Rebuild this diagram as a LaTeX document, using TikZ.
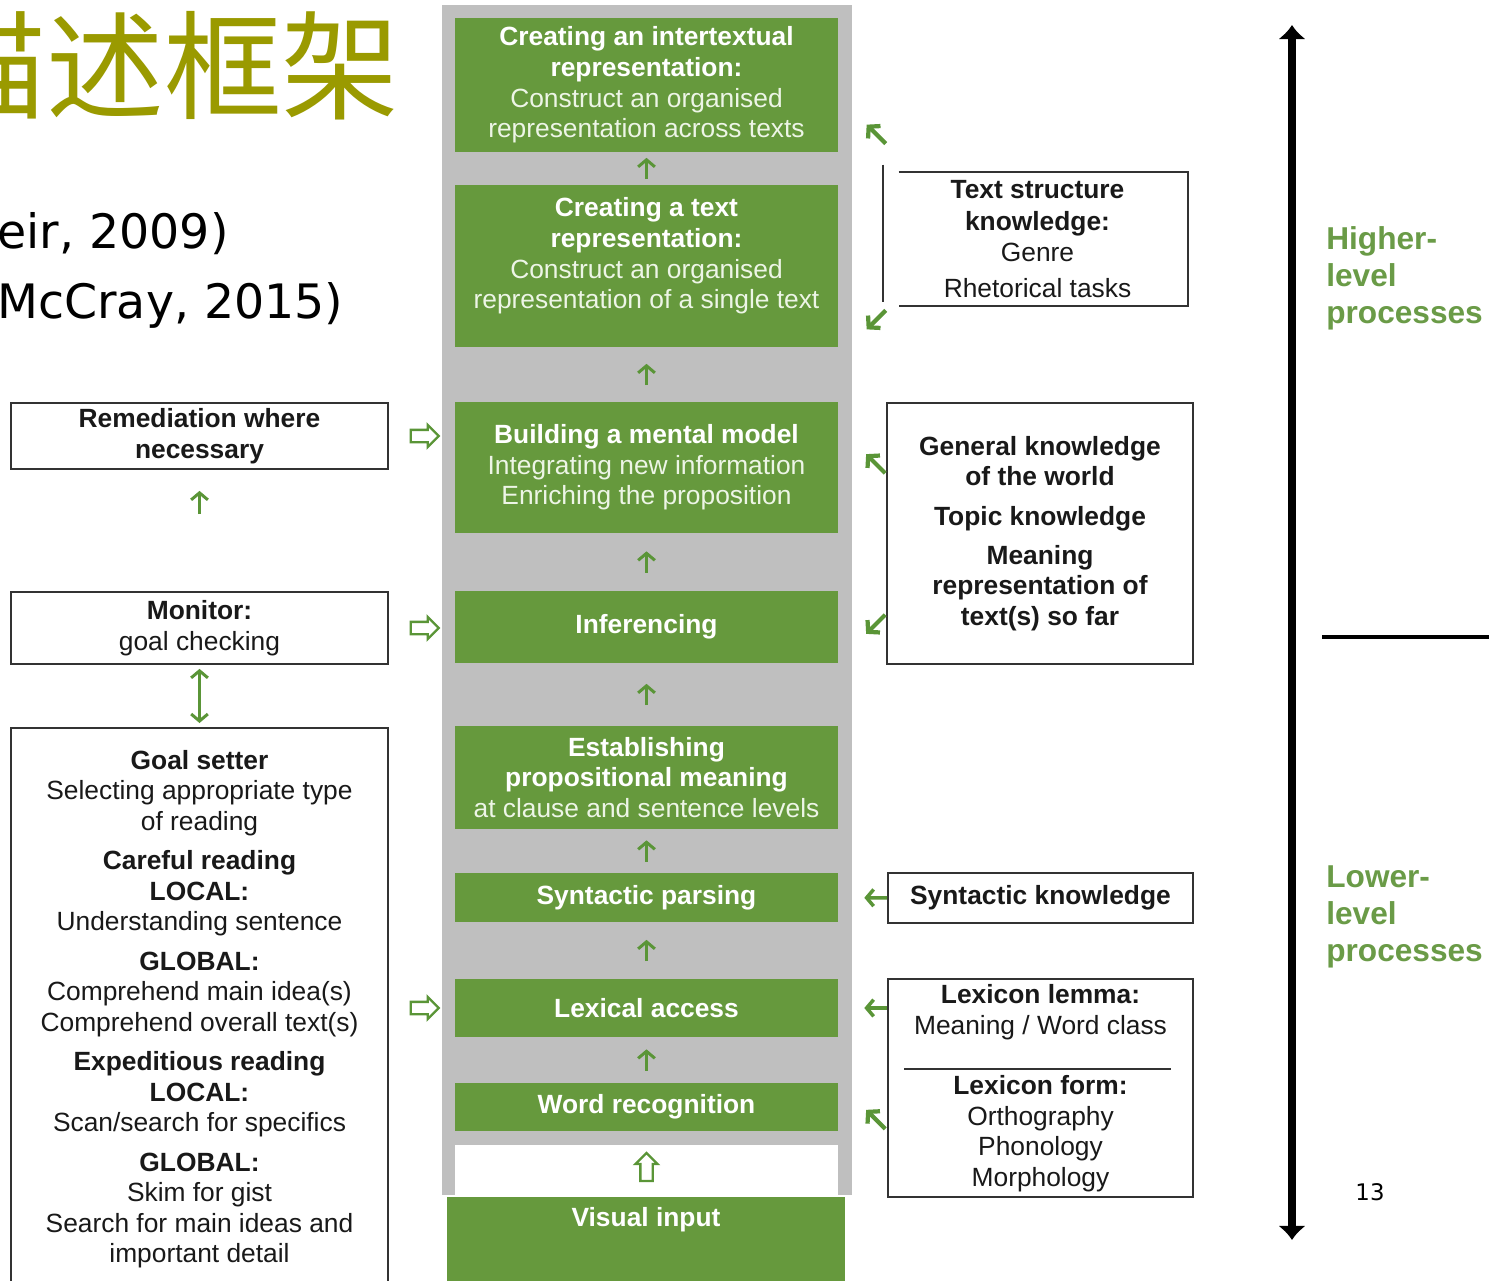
\documentclass[tikz,border=0pt]{standalone}
\usepackage{fontspec}
\setmainfont{Liberation Sans}
\newfontfamily\cjkfont{Noto Sans CJK SC}
\newfontfamily\slidefont{DejaVu Sans}
\usetikzlibrary{positioning,calc,arrows.meta,shapes.arrows}
\definecolor{procgreen}{HTML}{66993D}
\definecolor{arrgreen}{HTML}{5A9537}
\definecolor{bandgray}{HTML}{BFBFBF}
\definecolor{titleolive}{HTML}{9A9A00}
\definecolor{softwhite}{HTML}{EDF5E6}
\definecolor{levelgreen}{HTML}{6A9B47}
\newcommand{\procfont}{\fontsize{15}{17.4}\selectfont}
\newcommand{\hd}[1]{{\bfseries\color{white}#1}}

\begin{document}
\begin{tikzpicture}[x=0.02cm, y=-0.02cm,
  proc/.style={fill=procgreen, minimum width=7.66cm, inner sep=0pt,
               align=center, text=softwhite, font=\procfont},
  know/.style={draw=black!80, line width=1pt, fill=white, inner sep=0pt,
               align=center, text=black!90, font=\procfont},
  garr/.style={arrgreen, line width=1.7pt, -{Straight Barb[length=4pt, width=9.5pt]}},
  uparr/.style={garr, shorten <=#1, shorten >=#1},
  diag/.style={arrgreen, line width=2.4pt, -{Straight Barb[length=4.5pt, width=10pt]}},
  hollow/.style={single arrow, draw=arrgreen, line width=1.3pt, fill=white,
                 minimum height=0.56cm, minimum width=0.4cm,
                 inner xsep=0pt, inner ysep=0.1cm, single arrow head extend=0.1cm},
  level/.style={font=\bfseries\fontsize{18}{21}\selectfont, text=levelgreen,
                align=left, anchor=west, inner sep=0pt},
]

% slide area
\clip (0,0) rectangle (1489,1281);
\fill[white] (0,0) rectangle (1489,1281);

% Title and references (cut off at the left edge)
\node[font=\cjkfont\fontsize{67}{67}\selectfont, text=titleolive,
      anchor=base east, inner sep=0pt] (title) at (400,110) {描述框架};
\node[font=\slidefont\fontsize{27}{30}\selectfont, anchor=base west,
      inner sep=0pt] (ref1) at (-3,248) {eir, 2009)};
\node[font=\slidefont\fontsize{27}{30}\selectfont, anchor=base west,
      inner sep=0pt] (ref2) at (-3,318) {McCray, 2015)};

% Central column: grey band with the processes
\fill[bandgray] (442,5) rectangle (852,1195);

\node[proc, minimum height=2.68cm] (inter) at (646.5,85)
  {\hd{Creating an intertextual}\\\hd{representation:}\\
   Construct an organised\\representation across texts};
\node[proc, minimum height=3.24cm,
      label={[align=center, font=\procfont, text=softwhite, yshift=0.2cm]center:{\hd{Creating a text}\\\hd{representation:}\\Construct an organised\\representation of a single text}}]
  (txt) at (646.5,266) {};
\node[proc, minimum height=2.62cm] (mental) at (646.5,467.5)
  {\hd{Building a mental model}\\Integrating new information\\Enriching the proposition};
\node[proc, minimum height=1.44cm] (infer) at (646.5,627) {\hd{Inferencing}};
\node[proc, minimum height=2.06cm] (estab) at (646.5,777.5)
  {\hd{Establishing}\\\hd{propositional meaning}\\at clause and sentence levels};
\node[proc, minimum height=0.98cm] (synt) at (646.5,897.5) {\hd{Syntactic parsing}};
\node[proc, minimum height=1.16cm] (lex) at (646.5,1008) {\hd{Lexical access}};
\node[proc, minimum height=0.96cm] (word) at (646.5,1107) {\hd{Word recognition}};
\node[fill=white, minimum width=7.66cm, minimum height=1cm, inner sep=0pt] (gap) at (646.5,1170) {};
\node[proc, minimum width=7.96cm, anchor=north, inner ysep=0.2cm, text depth=3cm]
  (visual) at (646,1197) {\hd{Visual input}};

% upward arrows between the processes
\draw[uparr=0.11cm] (txt) -- (inter);
\draw[uparr=0.33cm] (mental) -- (txt);
\draw[uparr=0.36cm] (infer) -- (mental);
\draw[uparr=0.41cm] (estab) -- (infer);
\draw[uparr=0.22cm] (synt) -- (estab);
\draw[uparr=0.35cm] (lex) -- (synt);
\draw[uparr=0.24cm] (word) -- (lex);
\node[hollow, rotate=90] (upin) at (gap) {};

% Left column: metacognitive control
\node[know, minimum width=7.54cm, minimum height=1.32cm] (remed) at (199.5,436)
  {\textbf{Remediation where}\\\textbf{necessary}};
\node[know, minimum width=7.54cm, minimum height=1.44cm] (monitor) at (199.5,628)
  {\textbf{Monitor:}\\goal checking};
\node[know, minimum width=7.54cm, minimum height=11.26cm, anchor=north] (goal) at (199.5,727)
  {\textbf{Goal setter}\\Selecting appropriate type\\of reading\\[5pt]
   \textbf{Careful reading}\\\textbf{LOCAL:}\\Understanding sentence\\[5pt]
   \textbf{GLOBAL:}\\Comprehend main idea(s)\\Comprehend overall text(s)\\[5pt]
   \textbf{Expeditious reading}\\\textbf{LOCAL:}\\Scan/search for specifics\\[5pt]
   \textbf{GLOBAL:}\\Skim for gist\\Search for main ideas and\\important detail};

\draw[garr, shorten <=1.54cm, shorten >=0.42cm] (monitor) -- (remed);
\draw[garr, {Straight Barb[length=4pt, width=9.5pt]}-{Straight Barb[length=4pt, width=9.5pt]},
      shorten <=0.08cm, shorten >=0.08cm] (goal) -- (monitor);

\node[hollow] (toment) at ($(remed.east)!0.5!(remed.east -| mental.west)$) {};
\node[hollow] (toinf) at ($(monitor.east)!0.5!(monitor.east -| infer.west)$) {};
\node[hollow] (tolex) at ($(goal.east |- lex)!0.5!(lex.west)$) {};

% Right column: knowledge sources
\node[inner sep=0pt, minimum width=5.78cm, minimum height=2.68cm,
      label={[align=center, font=\procfont, text=black!90, xshift=-0.12cm]center:{\textbf{Text structure}\\[1pt]\textbf{knowledge:}\\Genre\\[3pt]Rhetorical tasks}}]
  (tsk) at (1043.5,239) {};
\draw[black!80, line width=1pt] (tsk.north west) -- (tsk.north east)
  -- (tsk.south east) -- (tsk.south west);
\draw[black!80, line width=1pt] ($(tsk.north west)+(-16,-7)$) -- ($(tsk.south west)+(-16,-4)$);

\node[know, minimum width=6.12cm, minimum height=5.22cm] (gen) at (1040,533.5)
  {\textbf{General knowledge}\\\textbf{of the world}\\[5pt]
   \textbf{Topic knowledge}\\[5pt]
   \textbf{Meaning}\\\textbf{representation of}\\\textbf{text(s) so far}};
\node[know, minimum width=6.1cm, minimum height=1cm] (syk) at (1040.5,898)
  {\textbf{Syntactic knowledge}};
\node[know, minimum width=6.1cm, minimum height=4.36cm] (lexbox) at (1040.5,1088)
  {\textbf{Lexicon lemma:}\\Meaning / Word class\\[17pt]
   \textbf{Lexicon form:}\\Orthography\\Phonology\\Morphology};
\draw[black!80, line width=0.8pt] ($(lexbox.west)+(17,-19)$) -- ($(lexbox.east)+(-23,-19)$);

% arrows from the knowledge sources
\draw[diag] ($(tsk.north west)+(-13,-28)$) -- ++(-19,-19);
\draw[diag] ($(tsk.south west)+(-13,4)$) -- ++(-19,19);
\draw[diag] ($(gen.north west)+(-1,71)$) -- ++(-19,-19);
\draw[diag] ($(gen.south west)+(-1,-50)$) -- ++(-19,19);
\draw[garr, line width=2pt, shorten >=0.52cm] (syk) -- (synt);
\draw[garr, line width=2pt, shorten >=0.52cm] (lexbox.west |- lex) -- (lex);
\draw[diag] ($(lexbox.south west)+(-2,-69)$) -- ++(-19,-19);

% Levels of processing
\coordinate (hitop) at (1292,25);
\coordinate (lobot) at (1292,1240);
\draw[line width=4.5pt, {Latex[length=8pt, width=16pt]}-{Latex[length=8pt, width=16pt]}] (lobot) -- (hitop);
\coordinate (splitl) at (1322,637);
\coordinate (splitr) at (1489,637);
\draw[line width=1.8pt] (splitl) -- (splitr);
\node[level] (higher) at (1326,278) {Higher-\\level\\processes};
\node[level] (lower) at (1326,917) {Lower-\\level\\processes};
\node[font=\slidefont\fontsize{13}{15}\selectfont, inner sep=0pt] (pageno) at (1370,1192) {13};

\end{tikzpicture}
\end{document}
